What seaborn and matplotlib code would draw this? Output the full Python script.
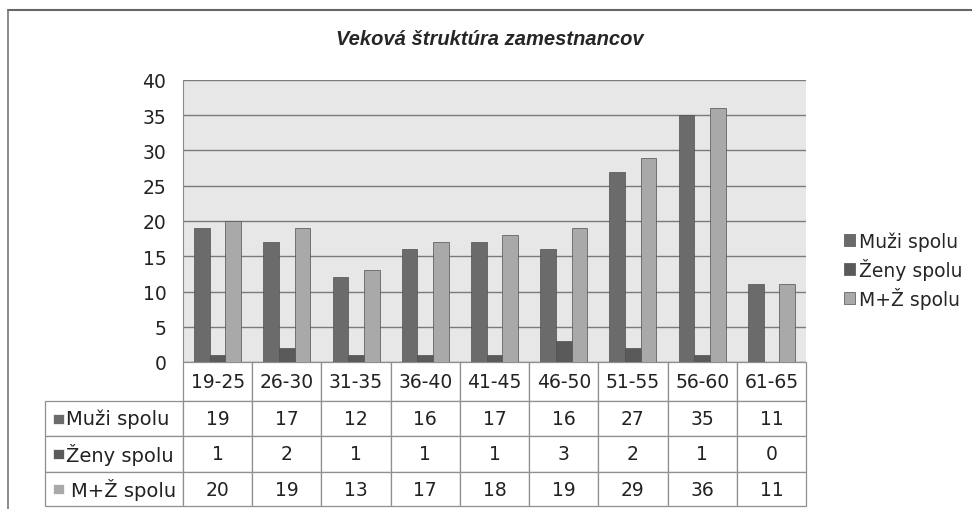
import pandas as pd
import matplotlib.pyplot as plt
import seaborn as sns
from matplotlib.patches import Rectangle

# data
age_groups = ['19-25', '26-30', '31-35', '36-40', '41-45', '46-50', '51-55', '56-60', '61-65']
muzi = [19, 17, 12, 16, 17, 16, 27, 35, 11]
zeny = [1, 2, 1, 1, 1, 3, 2, 1, 0]
spolu = [20, 19, 13, 17, 18, 19, 29, 36, 11]
series_names = ['Muži spolu', 'Ženy spolu', 'M+Ž spolu']
series_colors = ['#6b6b6b', '#5a5a5a', '#a9a9a9']

rows = []
for name, vals in zip(series_names, [muzi, zeny, spolu]):
    for g, v in zip(age_groups, vals):
        rows.append({'vek': g, 'pocet': v, 'seria': name})
df = pd.DataFrame(rows)

sns.set_style('white')
plt.rcParams['font.family'] = ['DejaVu Sans']

W, H = 972, 510
fig = plt.figure(figsize=(W / 100, H / 100), dpi=100)
ax = fig.add_axes([183 / W, 1 - 363 / H, 623 / W, 282 / H])
ax.set_facecolor('#e7e7e7')

sns.barplot(data=df, x='vek', y='pocet', hue='seria', palette=series_colors,
            width=0.68, edgecolor='#4f4f4f', linewidth=0.5, ax=ax, zorder=3)

ax.set_ylim(0, 40)
ax.set_xlim(-0.5, len(age_groups) - 0.5)
ax.set_yticks(range(0, 41, 5))
ax.yaxis.grid(True, color='#7a7a7a', linewidth=1.0, zorder=0)
ax.set_axisbelow(True)
ax.tick_params(axis='y', length=6, color='#8a8a8a', labelsize=13.5, pad=6, colors='#222222')
ax.tick_params(axis='x', length=0, labelbottom=False)
ax.set_xlabel('')
ax.set_ylabel('')
for s in ['top', 'right', 'bottom']:
    ax.spines[s].set_visible(False)
ax.spines['left'].set_color('#8a8a8a')

# legend on the right
handles, labels = ax.get_legend_handles_labels()
ax.legend(handles, labels, loc='center left', bbox_to_anchor=(827 / W, 1 - 271 / H),
          bbox_transform=fig.transFigure, frameon=False, fontsize=13.5,
          handlelength=0.6, handleheight=0.6, handletextpad=0.2, labelspacing=0.38)

# data table under the plot
cell_text = [[''] + age_groups]
for name, vals in zip(series_names, [muzi, zeny, spolu]):
    cell_text.append([name] + [str(v) for v in vals])

tab_left, tab_right, tab_top, tab_bottom = 45, 806, 363, 507
label_w = 183 - tab_left
col_w = (tab_right - 183) / len(age_groups)
total_w = tab_right - tab_left
tbl = ax.table(cellText=cell_text,
               colWidths=[label_w / total_w] + [col_w / total_w] * len(age_groups),
               cellLoc='center',
               bbox=[(tab_left - 183) / 623, (363 - tab_bottom) / 282,
                     total_w / 623, (tab_bottom - tab_top) / 282])
tbl.auto_set_font_size(False)
tbl.set_fontsize(13.5)
row_h = [39, 35, 36, 34]
for (r, c), cell in tbl.get_celld().items():
    cell.set_edgecolor('#8f8f8f')
    cell.set_linewidth(0.9)
    cell.set_height(row_h[r])
    cell.get_text().set_color('#222222')
    if r == 0 and c == 0:
        cell.visible_edges = ''
    if c == 0 and r > 0:
        cell._loc = 'left'
        cell.get_text().set_ha('left')
        cell.get_text().set_fontsize(14)
        cell.PAD = 0.15 if r < 3 else 0.19

# colored squares in the row labels
row_centers = [419.5, 455, 490]
for yc, col in zip(row_centers, series_colors):
    fig.add_artist(Rectangle((53 / W, 1 - (yc + 5) / H), 11 / W, 10 / H,
                             facecolor=col, edgecolor='white', linewidth=0.5))

# title
fig.text(0.504, 1 - 40 / H, 'Veková štruktúra zamestnancov', ha='center', va='center',
         fontsize=14.5, fontweight='bold', fontstyle='italic',
         family=['Liberation Sans', 'DejaVu Sans'])

# outer frame (top and left edges visible in the scan)
fig.add_artist(plt.Line2D([8 / W, 1], [1 - 11 / H, 1 - 11 / H], color='#666666', linewidth=1.5))
fig.add_artist(plt.Line2D([8 / W, 8 / W], [0, 1 - 11 / H], color='#777777', linewidth=1.2))

fig.savefig('out.png', dpi=100)
